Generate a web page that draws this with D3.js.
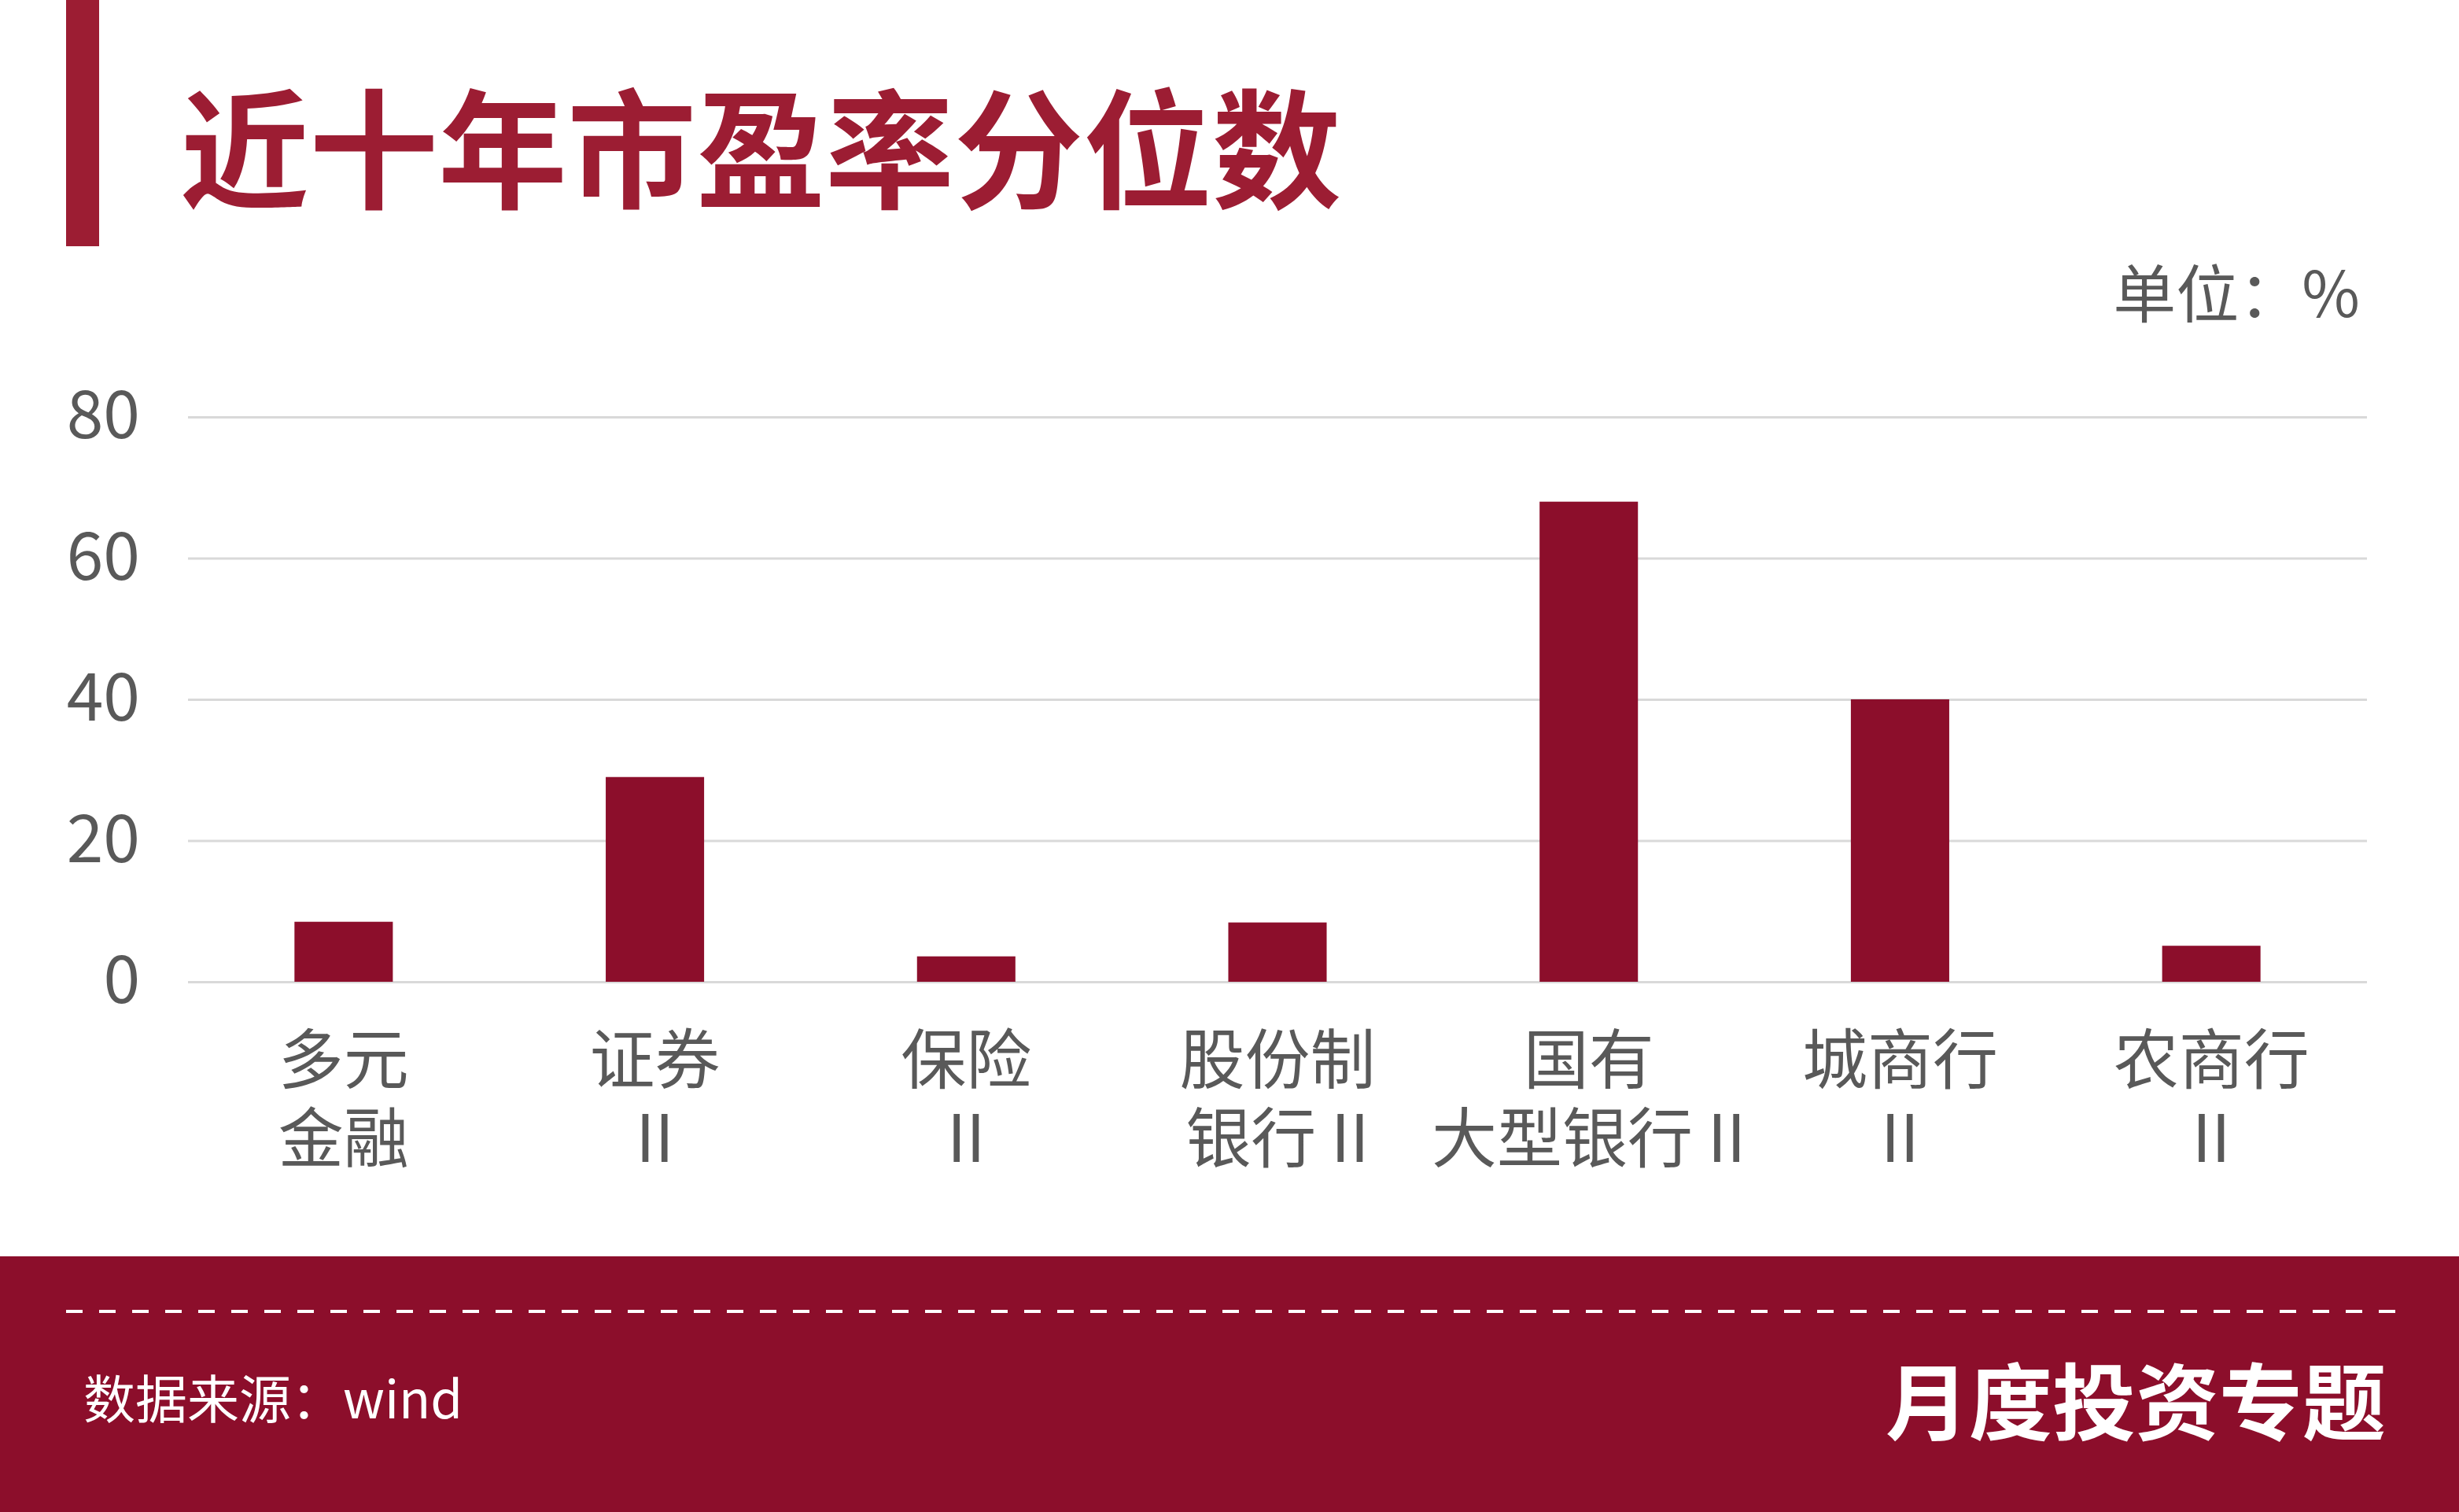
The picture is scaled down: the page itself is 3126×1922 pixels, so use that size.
<!DOCTYPE html>
<html><head><meta charset="utf-8">
<script src="https://cdn.jsdelivr.net/npm/d3@7/dist/d3.min.js"></script>
<style>html,body{margin:0;padding:0;background:#fff;}svg{display:block;}</style>
</head><body>
<script>
const categories = [["多元","金融"],["证券","II"],["保险","II"],["股份制","银行 II"],["国有","大型银行 II"],["城商行","II"],["农商行","II"]];
const values = [8.5, 29, 3.6, 8.4, 68, 40, 5.1];
const yTicks = [0, 20, 40, 60, 80];
const titleText = "近十年市盈率分位数";
const unitText = "单位：%";
const sourceText = "数据来源：wind";
const brandText = "月度投资专题";

const W = 3126, H = 1922;
const FONT = "'Noto Sans CJK SC','Noto Sans',sans-serif";
const RED = "#8c0e2b", TITLE_RED = "#9c1d33", GRAY = "#595959";

const svg = d3.select("body").append("svg").attr("width", W).attr("height", H)
  .style("font-family", FONT);
svg.append("rect").attr("width", W).attr("height", H).attr("fill", "#fff");

// header
svg.append("rect").attr("x", 84).attr("y", 0).attr("width", 42).attr("height", 313).attr("fill", TITLE_RED);
svg.append("text").attr("x", 229).attr("y", 252).attr("font-size", 164).attr("font-weight", 700)
  .attr("fill", TITLE_RED).text(titleText);
svg.append("text").attr("x", 3000).attr("y", 403).attr("text-anchor", "end").attr("font-size", 80)
  .attr("fill", GRAY).text(unitText);

// chart
const x0 = 239, x1 = 3009, yTop = 530, yBot = 1248;
const x = d3.scaleBand().domain(d3.range(categories.length)).range([x0, x1]).paddingInner(0.684).paddingOuter(0.342);
const y = d3.scaleLinear().domain([0, 80]).range([yBot, yTop]);

const yAxis = svg.append("g").attr("transform", `translate(${x0},0)`)
  .call(d3.axisLeft(y).tickValues(yTicks).tickSize(-(x1 - x0)).tickPadding(61).tickFormat(d3.format("d")));
yAxis.select(".domain").remove();
yAxis.selectAll(".tick line").attr("stroke", "#d9d9d9").attr("stroke-width", 3);
yAxis.selectAll(".tick text").attr("fill", GRAY).attr("font-size", 84).attr("font-family", FONT);

svg.append("g").selectAll("rect").data(values).join("rect")
  .attr("x", (d, i) => x(i)).attr("width", x.bandwidth())
  .attr("y", d => y(d)).attr("height", d => y(0) - y(d)).attr("fill", RED);

const labG = svg.append("g");
categories.forEach((d, i) => {
  const cx = x(i) + x.bandwidth() / 2;
  d.forEach((line, j) => {
    labG.append("text").attr("x", cx).attr("y", 1377 + j * 100)
      .attr("text-anchor", "middle").attr("font-size", 83).attr("fill", GRAY).text(line);
  });
});

// footer
svg.append("rect").attr("x", 0).attr("y", 1597).attr("width", W).attr("height", H - 1597).attr("fill", RED);
svg.append("line").attr("x1", 84).attr("x2", 3050).attr("y1", 1667).attr("y2", 1667)
  .attr("stroke", "#fff").attr("stroke-width", 4).attr("stroke-dasharray", "21 21");
svg.append("text").attr("x", 106).attr("y", 1803).attr("font-size", 66).attr("fill", "#fff").text(sourceText);
svg.append("text").attr("x", 3033).attr("y", 1822).attr("text-anchor", "end").attr("font-size", 106)
  .attr("font-weight", 700).attr("fill", "#fff").text(brandText);
</script>
</body></html>
